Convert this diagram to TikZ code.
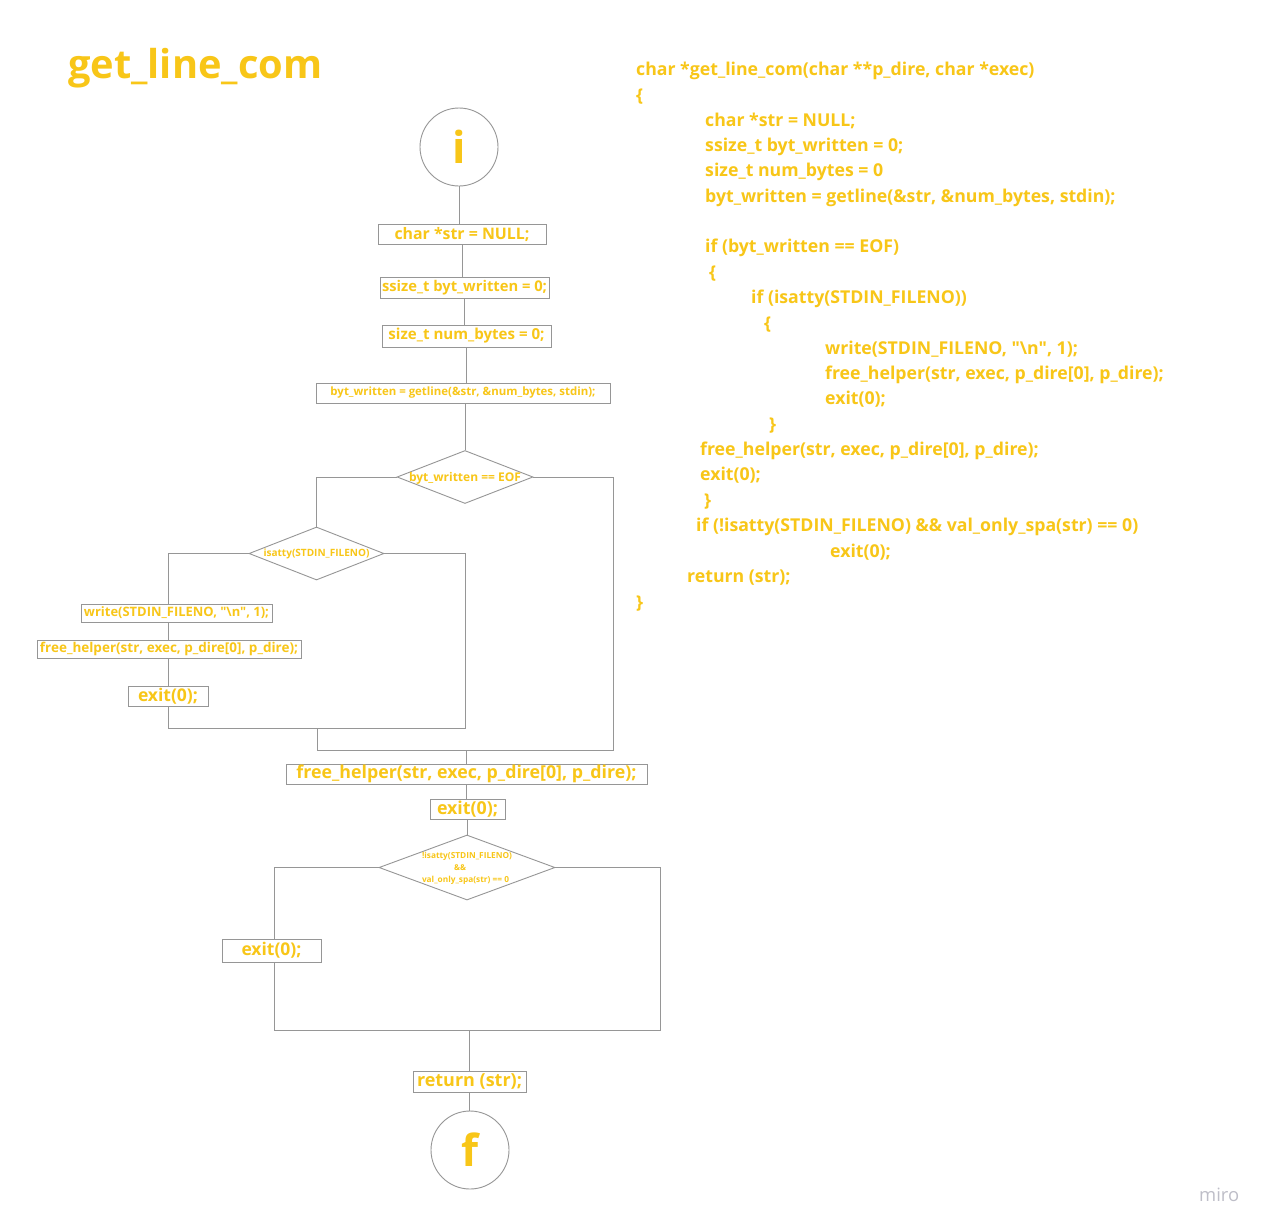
\documentclass[tikz,border=0pt]{standalone}
\usepackage{fontspec}
\setmainfont{Open Sans}[Ligatures=TeXOff]
\usetikzlibrary{shapes.geometric}
\definecolor{yl}{RGB}{248,198,24}
\definecolor{lc}{RGB}{150,150,150}
\definecolor{mirogray}{RGB}{190,190,200}
\newcommand\tw[2]{\resizebox{#1pt}{!}{\bfseries #2}}
\newcommand\dq{\char34\relax}
\tikzset{
  box/.style={draw=lc, fill=white, inner sep=0pt, text=yl, line width=0.9pt},
  dia/.style={draw=lc, fill=white, diamond, inner sep=0pt, line width=0.9pt},
  dtext/.style={text=yl, inner sep=0pt, align=center},
  circ/.style={draw=lc, circle, minimum size=78pt, inner sep=0pt, text=yl, line width=0.9pt, font=\fontsize{44}{50}\selectfont\bfseries},
  wire/.style={draw=lc, line width=0.9pt},
  code/.style={anchor=base west, text=yl, inner sep=0pt, font=\fontsize{17.7}{20}\selectfont\bfseries}
}
\begin{document}
\begin{tikzpicture}[x=1pt,y=-1pt]
\useasboundingbox[fill=white] (0,0) rectangle (1268,1231);

% title
\node[anchor=base west, text=yl, inner sep=0pt] (title) at (68,78) {\tw{254}{get\_line\_com}};

% flowchart nodes
\node[circ] (i) at (459,147) {i};
\node[box, minimum width=168pt, minimum height=20pt] (b1) at (462,234) {\tw{135}{char *str = NULL;}};
\node[box, minimum width=169pt, minimum height=21pt] (b2) at (464.5,287.5) {\tw{165}{ssize\_t byt\_written = 0;}};
\node[box, minimum width=169pt, minimum height=22pt] (b3) at (466.5,336) {\tw{156}{size\_t num\_bytes = 0;}};
\node[box, minimum width=294pt, minimum height=20pt] (b4) at (463,393) {\tw{265}{byt\_written = getline(\&str, \&num\_bytes, stdin);}};

\node[dia, minimum width=136pt, minimum height=53pt] (d1) at (465,477) {};
\node[dtext] (d1t) at (465,478) {\tw{112}{byt\_written == EOF}};

\node[dia, minimum width=135pt, minimum height=53pt] (d2) at (316.5,553.5) {};
\node[dtext] (d2t) at (316.5,554) {\tw{106}{isatty(STDIN\_FILENO)}};

\node[box, minimum width=191pt, minimum height=18pt] (w) at (176.5,613) {\tw{185}{write(STDIN\_FILENO, \dq\textbackslash n\dq, 1);}};
\node[box, minimum width=264pt, minimum height=18pt] (fh1) at (169,649) {\tw{258}{free\_helper(str, exec, p\_dire[0], p\_dire);}};
\node[box, minimum width=80pt, minimum height=20pt] (ex1) at (168,696) {\tw{60}{exit(0);}};

\node[box, minimum width=361pt, minimum height=20pt] (fh2) at (466.5,774) {\tw{340}{free\_helper(str, exec, p\_dire[0], p\_dire);}};
\node[box, minimum width=75pt, minimum height=20pt] (ex2) at (467.5,809) {\tw{61}{exit(0);}};

\node[dia, minimum width=176pt, minimum height=65pt] (d3) at (467,867.5) {};
\node[dtext, text=yl] (d3a) at (467,856) {\tw{90}{!isatty(STDIN\_FILENO)}};
\node[dtext, text=yl] (d3b) at (460,868) {\tw{12}{\&\&}};
\node[dtext, text=yl] (d3c) at (465.5,880) {\tw{87}{val\_only\_spa(str) == 0}};

\node[box, minimum width=99pt, minimum height=23pt] (ex3) at (271.5,950.5) {\tw{60}{exit(0);}};
\node[box, minimum width=113pt, minimum height=21pt] (ret) at (469.5,1081.5) {\tw{105}{return (str);}};
\node[circ] (f) at (470,1150) {f};

% junction coordinates
\coordinate (j1l) at (317,750);
\coordinate (j1r) at (613,750);
\coordinate (j2l) at (168,728);
\coordinate (j2r) at (465,728);
\coordinate (j2m) at (317,728);
\coordinate (j3l) at (274,1030);
\coordinate (j3r) at (660,1030);

% connectors
\draw[wire] (i.south) -- (i.south |- b1.north);
\draw[wire] (b1.south) -- (b1.south |- b2.north);
\draw[wire] (b2.south) -- (b2.south |- b3.north);
\draw[wire] (b3.south) -- (b3.south |- b4.north);
\draw[wire] (d1.north |- b4.south) -- (d1.north);
\draw[wire] (d1.west) -| (d2.north);
\draw[wire] (d1.east) -| (j1r) -- (j1l);
\draw[wire] (d2.west) -| (w.north -| ex1.north);
\draw[wire] (w.south -| ex1.north) -- (fh1.north -| ex1.north);
\draw[wire] (fh1.south -| ex1.north) -- (ex1.north);
\draw[wire] (ex1.south) -- (j2l) -- (j2r) |- (d2.east);
\draw[wire] (j2m) -- (j1l);
\draw[wire] (fh2.north |- j1l) -- (fh2.north);
\draw[wire] (fh2.south) -- (fh2.south |- ex2.north);
\draw[wire] (d3.north |- ex2.south) -- (d3.north);
\draw[wire] (d3.west) -| (j3l |- ex3.north);
\draw[wire] (j3l |- ex3.south) -- (j3l) -- (j3r) |- (d3.east);
\draw[wire] (ret.north |- j3l) -- (ret.north);
\draw[wire] (ret.south) -- (ret.south |- f.north);

% code listing
\node[code] (c1) at (636,75) {char *get\_line\_com(char **p\_dire, char *exec)};
\node[code] (c2) at (636,101) {\{};
\node[code] (c3) at (705,126) {char *str = NULL;};
\node[code] (c4) at (705,151) {ssize\_t byt\_written = 0;};
\node[code] (c5) at (705,176) {size\_t num\_bytes = 0};
\node[code] (c6) at (705,202) {byt\_written = getline(\&str, \&num\_bytes, stdin);};
\node[code] (c7) at (705,252) {if (byt\_written == EOF)};
\node[code] (c8) at (709,278) {\{};
\node[code] (c9) at (751,303) {if (isatty(STDIN\_FILENO))};
\node[code] (c10) at (764,329) {\{};
\node[code] (c11) at (825,354) {write(STDIN\_FILENO, \dq\textbackslash n\dq, 1);};
\node[code] (c12) at (825,379) {free\_helper(str, exec, p\_dire[0], p\_dire);};
\node[code] (c13) at (825,404) {exit(0);};
\node[code] (c14) at (769,430) {\}};
\node[code] (c15) at (700,455) {free\_helper(str, exec, p\_dire[0], p\_dire);};
\node[code] (c16) at (700,480) {exit(0);};
\node[code] (c17) at (704,506) {\}};
\node[code] (c18) at (696,531) {if (!isatty(STDIN\_FILENO) \&\& val\_only\_spa(str) == 0)};
\node[code] (c19) at (830,557) {exit(0);};
\node[code] (c20) at (687,582) {return (str);};
\node[code] (c21) at (636,608) {\}};

% watermark
\node[anchor=base west, text=mirogray, inner sep=0pt] (miro) at (1199,1201) {\resizebox{40pt}{!}{miro}};
\end{tikzpicture}
\end{document}
